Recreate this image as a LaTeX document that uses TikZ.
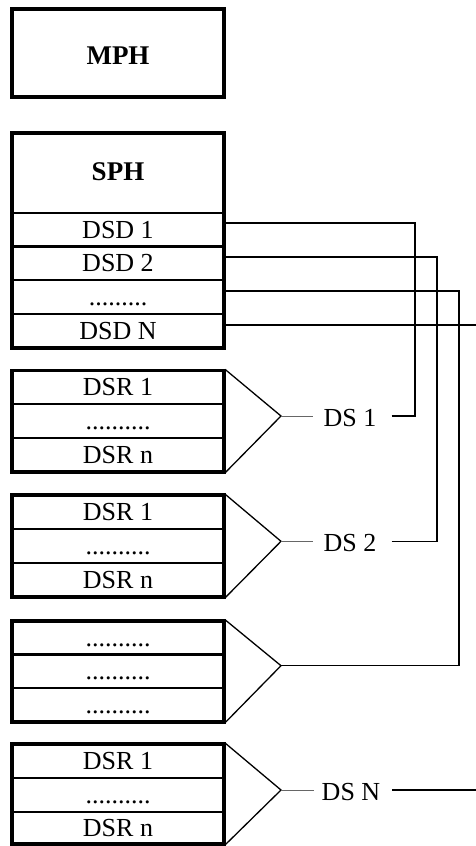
\documentclass[tikz,border=0pt]{standalone}
\usepackage{fontspec}
\setmainfont{Liberation Serif}
\begin{document}
\begin{tikzpicture}[x=1pt,y=-1pt,
  txt/.style={font=\fontsize{26}{30}\selectfont},
  btxt/.style={font=\bfseries\fontsize{27}{31}\selectfont},
  outer/.style={draw, line width=3.6pt},
  cell/.style={draw, line width=2pt, minimum width=212pt, minimum height=33.8pt,
    inner sep=0pt, text height=17pt, text depth=0pt, txt},
  conn/.style={line width=1.3pt},
  tri/.style={line width=1.3pt, line join=miter},
  feed/.style={line width=1pt, black!60},
  lbl/.style={inner sep=0pt, text height=17pt, text depth=0pt, txt}]
\useasboundingbox (0,0) rectangle (476,846);
\clip (0,0) rectangle (476,846);

% MPH
\node[minimum width=212pt, minimum height=88.3pt, inner sep=0pt,
  text height=18pt, text depth=0pt, btxt]
  (mph) at (118,55.5) {MPH};

% SPH
\node[cell, draw=none, minimum height=79.5pt, btxt, text height=18pt]
  (sph) at (118,171) {SPH};
\node[cell] (dsd1) at (118,229.5) {DSD 1};
\node[cell] (dsd2) at (118,263.4) {DSD 2};
\node[cell] (dsd3) at (118,297.2) {.........};
\node[cell] (dsdn) at (118,331.0) {DSD N};
\draw[outer] (12,8.7) rectangle (224,97);
\draw[outer] (12,133) rectangle (224,347.9);

% group 1
\node[cell] (g1a) at (118,387.2) {DSR 1};
\node[cell] (g1b) at (118,421.1) {..........};
\node[cell] (g1c) at (118,455.0) {DSR n};
\draw[outer] (12,370.3) rectangle (224,471.9);
\coordinate (a1) at (281,416);
\draw[tri] (g1a.north east) -- (a1) -- (g1c.south east);

% group 2
\node[cell] (g2a) at (118,512) {DSR 1};
\node[cell] (g2b) at (118,546) {..........};
\node[cell] (g2c) at (118,580) {DSR n};
\draw[outer] (12,495) rectangle (224,597);
\coordinate (a2) at (281,541.3);
\draw[tri] (g2a.north east) -- (a2) -- (g2c.south east);

% group 3
\node[cell] (g3a) at (118,637.6) {..........};
\node[cell] (g3b) at (118,671.3) {..........};
\node[cell] (g3c) at (118,704.9) {..........};
\draw[outer] (12,620.7) rectangle (224,721.8);
\coordinate (a3) at (281,665.7);
\draw[tri] (g3a.north east) -- (a3) -- (g3c.south east);

% group 4
\node[cell, minimum height=34.5pt] (g4a) at (118,761.2) {DSR 1};
\node[cell, minimum height=33.5pt] (g4b) at (118,795.2) {..........};
\node[cell, minimum height=32pt] (g4c) at (118,828) {DSR n};
\draw[outer] (12,744) rectangle (224,844);
\coordinate (a4) at (281,790);
\draw[tri] (g4a.north east) -- (a4) -- (g4c.south east);

% DS labels
\node[lbl] (ds1) at (350,418) {DS 1};
\node[lbl] (ds2) at (350,543.3) {DS 2};
\node[lbl] (dsn) at (351,792) {DS N};
\draw[feed] (a1) -- ([xshift=-10pt]ds1.west |- a1);
\draw[feed] (a2) -- ([xshift=-10pt]ds2.west |- a2);
\draw[feed] (a4) -- ([xshift=-8pt]dsn.west |- a4);

% corners of the connectors
\coordinate (c1) at (415,223);
\coordinate (c2) at (437,257);
\coordinate (c3) at (459,291);
\coordinate (c4) at (478,325);

\draw[conn] ([xshift=15pt]ds1.east |- a1) -| (c1) -- ([yshift=6.5pt]dsd1.east);
\draw[conn] ([xshift=15pt]ds2.east |- a2) -| (c2) -- ([yshift=6.4pt]dsd2.east);
\draw[conn] (a3) -| (c3) -- ([yshift=6.2pt]dsd3.east);
\draw[conn] ([xshift=12pt]dsn.east |- a4) -| (c4) -- ([yshift=6pt]dsdn.east);
\end{tikzpicture}
\end{document}
